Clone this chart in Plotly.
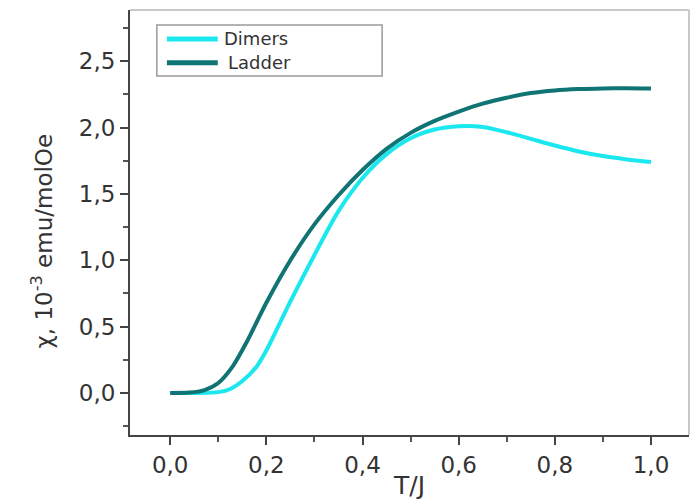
import plotly.graph_objects as go

# Data
t_ladder = [0, 0.04, 0.07, 0.1, 0.13, 0.16, 0.2, 0.25, 0.3, 0.35, 0.4, 0.45, 0.5,
            0.55, 0.6, 0.65, 0.7, 0.75, 0.8, 0.85, 0.9, 0.95, 1.0]
chi_ladder = [0, 0.003, 0.02, 0.075, 0.2, 0.39, 0.68, 1.00, 1.27, 1.49, 1.68, 1.84, 1.96,
              2.05, 2.12, 2.18, 2.225, 2.26, 2.28, 2.29, 2.295, 2.297, 2.295]

t_dimers = [0, 0.05, 0.1, 0.125, 0.15, 0.18, 0.2, 0.25, 0.3, 0.35, 0.4, 0.45, 0.5,
            0.55, 0.6, 0.65, 0.7, 0.75, 0.8, 0.85, 0.9, 0.95, 1.0]
chi_dimers = [0, 0.0, 0.006, 0.03, 0.09, 0.2, 0.32, 0.69, 1.04, 1.37, 1.62, 1.80, 1.92,
              1.985, 2.01, 2.005, 1.965, 1.915, 1.865, 1.82, 1.785, 1.76, 1.74]

x_ticks = [0, 0.2, 0.4, 0.6, 0.8, 1.0]
y_ticks = [0, 0.5, 1.0, 1.5, 2.0, 2.5]

series_names = ["Dimers", "Ladder"]
series_colors = ["#1AE8EE", "#0F7473"]

FONT = "DejaVu Sans, Liberation Sans, Arial"

fig = go.Figure()
fig.add_trace(go.Scatter(x=t_dimers, y=chi_dimers, mode="lines", name=series_names[0],
                         line=dict(color=series_colors[0], width=4, shape="spline", smoothing=0.8)))
fig.add_trace(go.Scatter(x=t_ladder, y=chi_ladder, mode="lines", name=series_names[1],
                         line=dict(color=series_colors[1], width=4, shape="spline", smoothing=0.8)))

axis_font = dict(family=FONT, size=23, color="#333")
fig.update_layout(
    width=694, height=501,
    margin=dict(l=130, r=5, t=10, b=66),
    paper_bgcolor="white", plot_bgcolor="white",
    separators=", ",
    font=dict(family=FONT, color="#333"),
    showlegend=False,
)
fig.update_xaxes(range=[-0.0836, 1.079], tickvals=x_ticks, tickformat=".1f",
                 showgrid=False, zeroline=False, showline=True, linecolor="#444", linewidth=2,
                 ticks="outside", ticklen=8, tickwidth=2, tickcolor="#444",
                 minor=dict(ticks="outside", ticklen=5, tickwidth=2, tickcolor="#555", dtick=0.1),
                 tickfont=axis_font,
                 title=dict(text="T/J", font=dict(family=FONT, size=25, color="#333"), standoff=0))
fig.update_yaxes(range=[-0.317, 2.886], tickvals=y_ticks, tickformat=".1f",
                 showgrid=False, zeroline=False, showline=True, linecolor="#444", linewidth=2,
                 ticks="outside", ticklen=8, tickwidth=2, tickcolor="#444",
                 minor=dict(ticks="outside", ticklen=5, tickwidth=2, tickcolor="#555", dtick=0.25),
                 tickfont=axis_font)
# y-axis title placed like the reference (slightly below the plot centre)
fig.add_annotation(xref="paper", yref="paper", x=-0.157, y=0.456, textangle=-90,
                   text="χ, 10<sup>-3</sup> emu/molOe", showarrow=False,
                   xanchor="center", yanchor="middle",
                   font=dict(family=FONT, size=23, color="#333"))
# light frame on top and right
fig.add_shape(type="line", xref="paper", yref="paper", x0=0, x1=1, y0=1, y1=1,
              line=dict(color="#c8c8c8", width=2))
fig.add_shape(type="line", xref="paper", yref="paper", x0=1, x1=1, y0=0, y1=1,
              line=dict(color="#c8c8c8", width=2))

# legend box (drawn to match the reference's long line samples)
fig.add_shape(type="rect", xref="paper", yref="paper", x0=0.048, x1=0.451, y0=0.845, y1=0.965,
              line=dict(color="#9a9a9a", width=1.5), fillcolor="white", layer="below")
legend_rows_y = [0.932, 0.876]
legend_text_x = [0.165, 0.172]
for name, color, ly, tx in zip(series_names, series_colors, legend_rows_y, legend_text_x):
    fig.add_shape(type="line", xref="paper", yref="paper", x0=0.066, x1=0.157, y0=ly, y1=ly,
                  line=dict(color=color, width=5))
    fig.add_annotation(xref="paper", yref="paper", x=tx, y=ly, text=name, showarrow=False,
                       xanchor="left", yanchor="middle",
                       font=dict(family=FONT, size=18, color="#333"))

fig.write_html("out.html")
